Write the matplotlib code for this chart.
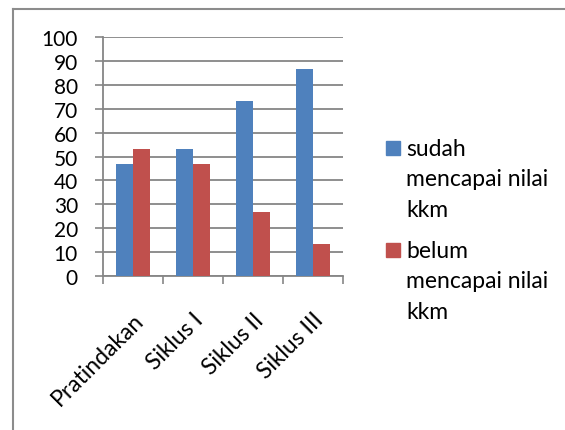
import numpy as np
import matplotlib
matplotlib.use("Agg")
import matplotlib.pyplot as plt
from matplotlib.lines import Line2D
from matplotlib.patches import Rectangle
import matplotlib.transforms as mtrans

# ====== Data ======
categories = ["Pratindakan", "Siklus I", "Siklus II", "Siklus III"]
sudah = [46.67, 53.33, 73.33, 86.67]   # sudah mencapai nilai kkm
belum = [53.33, 46.67, 26.67, 13.33]   # belum mencapai nilai kkm
legend_labels = [["sudah", "mencapai nilai", "kkm"],
                 ["belum", "mencapai nilai", "kkm"]]
# ==================

BLUE = "#4F81BD"
RED = "#C0504D"
GRAY = "#868686"
FS_Y = 15     # y tick labels
FS = 16.5     # category labels and legend

plt.rcParams["font.family"] = ["Lato", "DejaVu Sans"]

W, H = 565, 431
fig = plt.figure(figsize=(W / 100, H / 100), dpi=100)
fig.patch.set_facecolor("white")

# plot area in pixel coords: x 103..343, y 38..277 (from top)
ax = fig.add_axes([103 / W, 1 - 277 / H, 240 / W, 239 / H])

x = np.arange(len(categories))
bw = 0.29
ax.bar(x - bw / 2, sudah, bw, color=BLUE, zorder=3)
ax.bar(x + bw / 2, belum, bw, color=RED, zorder=3)

ax.set_xlim(-0.5, len(categories) - 0.5)
ax.set_ylim(0, 100)

# y axis
ax.set_yticks(np.arange(0, 101, 10))
ax.tick_params(axis="y", length=6, width=1.2, color=GRAY, pad=12, labelsize=FS_Y)
ax.yaxis.grid(True, color=GRAY, linewidth=1.3, zorder=0)

# x axis: labels at centers, tick marks at boundaries
ax.set_xticks(x)
ax.set_xticklabels(categories, rotation=45, ha="right", va="center",
                   rotation_mode="anchor", fontsize=FS)
ax.tick_params(axis="x", which="major", length=0, pad=29)
ax.set_xticks(np.arange(-0.5, len(categories), 1.0), minor=True)
ax.tick_params(axis="x", which="minor", length=6, width=1.2, color=GRAY)
shift = mtrans.ScaledTranslation(7 / 100, 0, fig.dpi_scale_trans)
for lab in ax.get_xticklabels():
    lab.set_transform(lab.get_transform() + shift)

for s in ["top", "right"]:
    ax.spines[s].set_visible(False)
for s in ["left", "bottom"]:
    ax.spines[s].set_color(GRAY)
    ax.spines[s].set_linewidth(1.3)

# legend drawn by hand so the square sits on the first line
colors = [BLUE, RED]
first_base = [156, 258]
for lines, c, yb in zip(legend_labels, colors, first_base):
    fig.patches.append(Rectangle((386 / W, 1 - yb / H), 14 / W, 14 / H,
                                 transform=fig.transFigure, color=c))
    for k, t in enumerate(lines):
        fig.text(406 / W, 1 - (yb + 30.5 * k) / H, t, fontsize=FS,
                 ha="left", va="baseline")

# chart frame (left and top edges visible)
fig.add_artist(Line2D([13 / W, 13 / W], [0, 1 - 10 / H], color="#8C8C8C",
                      linewidth=1.5, transform=fig.transFigure))
fig.add_artist(Line2D([13 / W, 1], [1 - 10 / H, 1 - 10 / H], color="#8C8C8C",
                      linewidth=1.5, transform=fig.transFigure))

fig.savefig("out.png", dpi=100)
